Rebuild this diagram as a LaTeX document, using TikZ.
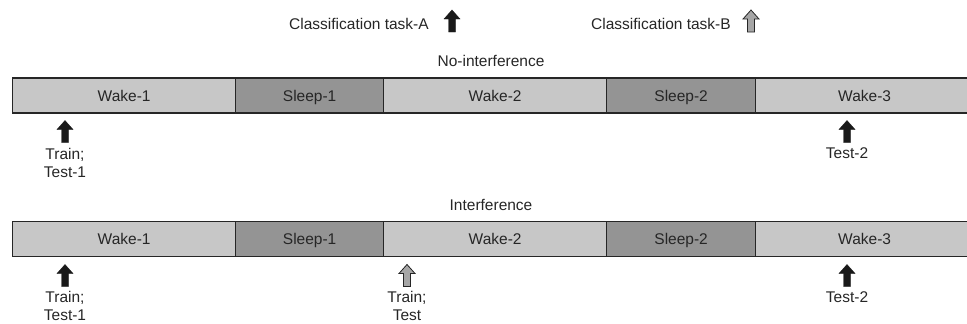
\documentclass[tikz,border=0pt]{standalone}
\usepackage{fontspec}
\setmainfont{Liberation Sans}
\begin{document}
\begin{tikzpicture}[x=1pt,y=-1pt,
  lbl/.style={font=\fontsize{15.5}{18}\selectfont, text=black!85, inner sep=0pt},
  two/.style={lbl, anchor=north, align=center},
  seg/.style={lbl, draw=black!85, line width=1.3pt, minimum height=35pt, anchor=west,
              text height=11pt, text depth=0pt},
  wake/.style={seg, fill=black!22},
  sleep/.style={seg, fill=black!42},
  arrA/.style={fill=black!90, draw=black!90, line width=0.4pt},
  arrB/.style={fill=black!35, draw=black!85, line width=0.8pt},
  blockarrow/.pic={\path[pic actions] (-3.5,0) -- (-3.5,-13) -- (-8,-13) -- (0,-22) -- (8,-13) -- (3.5,-13) -- (3.5,0) -- cycle;}
]
\useasboundingbox (0,0) rectangle (967,324);
\clip (0,0) rectangle (967,324);

% legend
\node[lbl, anchor=base] (legA) at (359,30) {Classification task-A};
\pic[arrA] at (452,32) {blockarrow};
\node[lbl, anchor=base] (legB) at (661,30) {Classification task-B};
\pic[arrB] at (751,32) {blockarrow};

% no-interference
\node[lbl, anchor=base] (titleN) at (491,66) {No-interference};
\node[wake,  minimum width=223pt] (n1) at (12,95.5)  {Wake-1};
\node[sleep, minimum width=148pt] (n2) at (235,95.5) {Sleep-1};
\node[wake,  minimum width=223pt] (n3) at (383,95.5) {Wake-2};
\node[sleep, minimum width=149pt] (n4) at (606,95.5) {Sleep-2};
\node[wake,  minimum width=218pt, text width=212pt, align=center] (n5) at (755,95.5) {Wake-3};

\pic[arrA] at (65,142.5) {blockarrow};
\node[two] (nl1) at (65,147.6) {Train;\\Test-1};
\pic[arrA] at (847,142.5) {blockarrow};
\node[lbl, anchor=base] (nl2) at (847,158.8) {Test-2};

% interference
\node[lbl, anchor=base] (titleI) at (491,210) {Interference};
\node[wake,  minimum width=223pt] (i1) at (12,239)  {Wake-1};
\node[sleep, minimum width=148pt] (i2) at (235,239) {Sleep-1};
\node[wake,  minimum width=223pt] (i3) at (383,239) {Wake-2};
\node[sleep, minimum width=149pt] (i4) at (606,239) {Sleep-2};
\node[wake,  minimum width=218pt, text width=212pt, align=center] (i5) at (755,239) {Wake-3};

\pic[arrA] at (65,286.5) {blockarrow};
\node[two] (il1) at (65,291.5) {Train;\\Test-1};
\pic[arrB] at (407,286.5) {blockarrow};
\node[two] (il2) at (407,291.5) {Train;\\Test};
\pic[arrA] at (847,286.5) {blockarrow};
\node[lbl, anchor=base] (il3) at (847,302.7) {Test-2};
\end{tikzpicture}
\end{document}
